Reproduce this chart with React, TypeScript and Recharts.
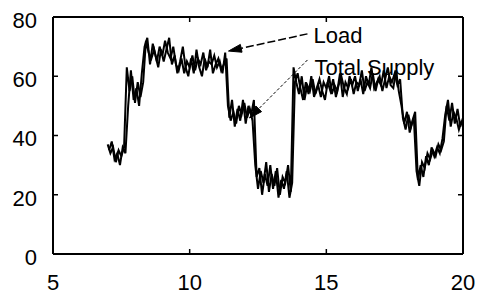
import React from 'react';
import { LineChart, Line, XAxis, YAxis, ReferenceLine } from 'recharts';

// Load, sampled every 0.1 h from 7.0 to 20.0
const loadValues: number[] = [
  37, 34, 36, 31, 35, 33, 36, 63, 55, 60,
  51, 58, 53, 58, 72, 68, 66, 69, 65, 70,
  67, 72, 68, 66, 70, 64, 62, 66, 61, 65,
  63, 67, 62, 66, 64, 68, 62, 65, 64, 67,
  63, 65, 61, 68, 50, 45, 48, 44, 50, 47,
  51, 46, 49, 45, 30, 22, 28, 24, 31, 21,
  27, 23, 29, 20, 26, 24, 30, 21, 63, 58,
  54, 60, 52, 57, 55, 59, 54, 57, 53, 58,
  56, 60, 54, 57, 55, 61, 53, 58, 56, 59,
  54, 58, 57, 62, 55, 58, 56, 61, 55, 59,
  57, 62, 56, 60, 58, 61, 57, 59, 46, 42,
  47, 43, 46, 28, 23, 31, 29, 34, 32, 35,
  33, 37, 35, 38, 50, 45, 51, 44, 49, 43,
  46,
];

// Total supply, sampled every 0.1 h from 7.05 to 19.95
const supplyValues: number[] = [
  35, 38, 32, 34, 30, 36, 34, 50, 62, 52,
  56, 50, 61, 70, 73, 64, 71, 67, 63, 69,
  65, 69, 73, 64, 67, 61, 65, 70, 63, 60,
  66, 61, 69, 63, 60, 66, 63, 69, 61, 64,
  66, 62, 64, 66, 46, 52, 43, 49, 45, 52,
  44, 50, 47, 52, 26, 29, 20, 27, 23, 30,
  22, 28, 19, 25, 22, 28, 19, 24, 58, 61,
  56, 52, 58, 54, 60, 53, 56, 59, 55, 52,
  58, 55, 59, 53, 57, 60, 56, 54, 60, 57,
  60, 55, 59, 54, 60, 57, 63, 56, 58, 60,
  55, 59, 63, 57, 56, 62, 55, 50, 44, 48,
  41, 45, 48, 25, 30, 26, 33, 30, 36, 33,
  36, 34, 39, 47, 52, 43, 48, 46, 42, 45,
];

const xTicks = [5, 10, 15, 20];
const yTicks = [0, 20, 40, 60, 80];

const loadData = loadValues.map((v, i) => ({ x: +(7 + i * 0.1).toFixed(2), load: v }));
const supplyData = supplyValues.map((v, i) => ({ x: +(7.05 + i * 0.1).toFixed(2), supply: v }));

const FONT = '"Liberation Sans", Arial, Helvetica, sans-serif';
const TICK = 5;

const makeArrow = (label: string, dx: number, dy: number, dash: string, width: number) => (p: any) => {
  const { x1, y1, x2, y2 } = p;
  const ang = Math.atan2(y2 - y1, x2 - x1);
  const len = 13;
  const hw = 4;
  const bx = x2 - len * Math.cos(ang);
  const by = y2 - len * Math.sin(ang);
  const nx = -Math.sin(ang);
  const ny = Math.cos(ang);
  const pts = `${x2},${y2} ${bx + nx * hw},${by + ny * hw} ${bx - nx * hw},${by - ny * hw}`;
  return (
    <g>
      <line x1={x1} y1={y1} x2={bx} y2={by} stroke="#000" strokeWidth={width} strokeDasharray={dash} />
      <polygon points={pts} fill="#000" stroke="#000" />
      <text x={x1 + dx} y={y1 + dy} fontSize={22} fontFamily={FONT} fill="#000">{label}</text>
    </g>
  );
};

// inward tick marks at both ends of a vertical/horizontal reference line
const vTicks = (p: any) => {
  const { x1, y1, x2, y2 } = p;
  const top = Math.min(y1, y2);
  const bot = Math.max(y1, y2);
  return (
    <g>
      <line x1={x1} y1={top} x2={x1} y2={top + TICK} stroke="#000" strokeWidth={1.5} />
      <line x1={x2} y1={bot} x2={x2} y2={bot - TICK} stroke="#000" strokeWidth={1.5} />
    </g>
  );
};
const hTicks = (p: any) => {
  const { x1, y1, x2, y2 } = p;
  const l = Math.min(x1, x2);
  const r = Math.max(x1, x2);
  return (
    <g>
      <line x1={l} y1={y1} x2={l + TICK} y2={y1} stroke="#000" strokeWidth={1.5} />
      <line x1={r} y1={y2} x2={r - TICK} y2={y2} stroke="#000" strokeWidth={1.5} />
    </g>
  );
};

export default function App() {
  return (
    <div style={{ position: 'absolute', left: 0, top: 0, width: 485, height: 291, background: '#fff' }}>
      <LineChart width={485} height={291} margin={{ top: 17, right: 22, bottom: 0, left: 0 }}>
        <XAxis
          dataKey="x"
          type="number"
          domain={[5, 20]}
          ticks={xTicks}
          allowDataOverflow
          height={37}
          axisLine={{ stroke: '#000', strokeWidth: 2 }}
          tickLine={false}
          tickMargin={14}
          tick={{ fontSize: 22, fill: '#000', fontFamily: FONT }}
        />
        <YAxis
          type="number"
          domain={[0, 80]}
          ticks={yTicks}
          width={53}
          axisLine={{ stroke: '#000', strokeWidth: 2 }}
          tickLine={false}
          tickMargin={10}
          tick={{ fontSize: 22, fill: '#000', fontFamily: FONT, dy: 3 }}
        />
        {xTicks.slice(1, -1).map((t) => (
          <ReferenceLine key={'xt' + t} x={t} shape={vTicks} />
        ))}
        {yTicks.slice(1, -1).map((t) => (
          <ReferenceLine key={'yt' + t} y={t} shape={hTicks} />
        ))}
        <ReferenceLine y={80} stroke="#000" strokeWidth={2} />
        <ReferenceLine x={20} stroke="#000" strokeWidth={2} />
        <Line data={loadData} dataKey="load" stroke="#000" strokeWidth={2} dot={false} isAnimationActive={false} type="linear" />
        <Line data={supplyData} dataKey="supply" stroke="#000" strokeWidth={2} dot={false} isAnimationActive={false} type="linear" />
        <ReferenceLine
          segment={[{ x: 14.31, y: 74.3 }, { x: 11.42, y: 68.5 }]}
          shape={makeArrow('Load', 6, 9, '8 3', 1.5)}
        />
        <ReferenceLine
          segment={[{ x: 14.31, y: 65.5 }, { x: 12.19, y: 45.9 }]}
          shape={makeArrow('Total Supply', 7, 15, '3 2', 1)}
        />
      </LineChart>
    </div>
  );
}
